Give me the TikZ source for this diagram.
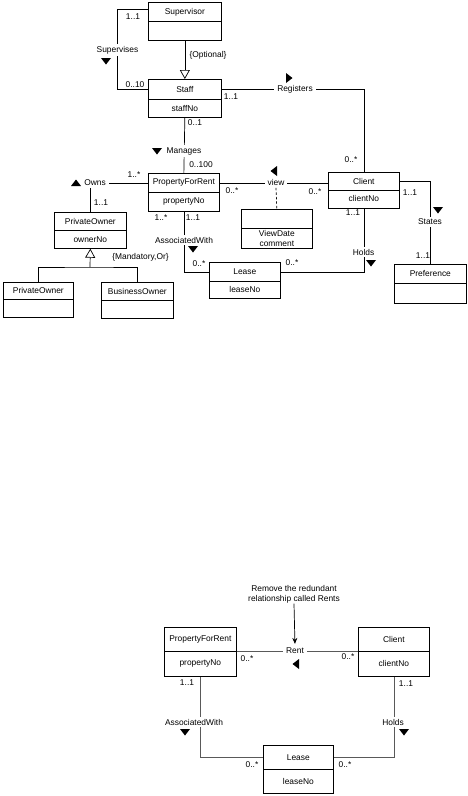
\documentclass[tikz,border=0pt]{standalone}
\usepackage{fontspec}
\setmainfont{Liberation Sans}
\usetikzlibrary{arrows.meta}
\tikzset{
  part/.style={draw, line width=0.7pt, inner sep=0pt, anchor=north west, align=center,
    font=\fontsize{8.4}{10}\selectfont},
  lbl/.style={inner sep=0.6pt, font=\fontsize{8.4}{10}\selectfont},
  wlbl/.style={lbl, fill=white, inner xsep=3pt, inner ysep=2pt},
  conn/.style={line width=0.7pt},
  gconn/.style={line width=0.7pt, draw=black!65},
  gen/.style={-{Triangle[open,length=9pt,width=10pt]}, line width=0.7pt},
}
\newcommand\umlcls[8]{%
  \node[part, minimum width=#4pt, minimum height=#5pt] (#1) at (#2,#3) {#7};
  \node[part, minimum width=#4pt, minimum height=#6pt] (#1a) at (#2,#3+#5) {#8};
}
\newcommand\tdn[2]{\fill (#1-5,#2-3) -- (#1+5,#2-3) -- (#1,#2+3.5) -- cycle;}
\newcommand\tup[2]{\fill (#1-5,#2+3) -- (#1+5,#2+3) -- (#1,#2-3.5) -- cycle;}
\newcommand\tlf[2]{\fill (#1+3,#2-5) -- (#1+3,#2+5) -- (#1-3.5,#2) -- cycle;}
\newcommand\trt[2]{\fill (#1-3,#2-5) -- (#1-3,#2+5) -- (#1+3.5,#2) -- cycle;}
\begin{document}
\begin{tikzpicture}[x=1pt,y=-1pt]
\useasboundingbox[fill=white] (0,0) rectangle (468,796);
% classes
\umlcls{Sup}{148}{2}{73}{19}{19}{Supervisor}{}
\umlcls{Staff}{148}{79}{73}{20}{18}{Staff}{staffNo}
\umlcls{PFR}{148}{173}{71}{19}{19}{PropertyForRent}{propertyNo}
\umlcls{Client}{328}{172}{71}{17.5}{18}{Client}{clientNo}
\umlcls{VD}{241}{209}{71}{19}{20}{}{ViewDate\\comment}
\umlcls{PO}{54}{212}{72}{18}{18}{PrivateOwner}{ownerNo}
\umlcls{POs}{3}{282}{70}{17}{18}{PrivateOwner}{}
\umlcls{BO}{101}{282}{72}{18}{18}{BusinessOwner}{}
\umlcls{Lease}{209}{262}{71}{19}{17}{Lease}{leaseNo}
\umlcls{Pref}{394}{264}{72}{19}{20}{Preference}{}
\umlcls{bPFR}{164}{627}{72}{24}{25}{PropertyForRent}{propertyNo}
\umlcls{bClient}{358}{627}{71}{24}{25}{Client}{clientNo}
\umlcls{bLease}{263}{745}{70}{24}{24}{Lease}{leaseNo}
% connectors (upper)
\draw[conn] ([yshift=2.5pt]Sup.west) -- ++(-31,0) |- (Staff.west);
\draw[gen] (Supa.south) -- (Staff.north);
\draw[conn] (Staff.east) -| (Client.north);
\draw[conn] (Staffa.south) -- (PFR.north);
\draw[conn] (PFR.east) -- (PFR.east -| Client.west);
\draw[conn] (PFR.west) -| (PO.north);
\coordinate (gj) at (90,267);
\draw[conn] (POs.north) |- (gj) -| (BO.north);
\draw[gen] (gj) -- (POa.south);
\draw[conn] (PFRa.south) |- (Lease.west);
\draw[conn] (Lease.east) -| (Clienta.south);
\draw[conn] (Client.east) -| (Pref.north);
% association labels (upper)
\node[wlbl] (sups) at (117.5,50) {Supervises};
\node[wlbl] (reg) at (295,89) {Registers};
\node[wlbl] (man) at (184,151) {Manages};
\node[wlbl] (view) at (276,182.5) {view};
\draw[conn, dash pattern=on 2.5pt off 2pt] (view.south) -- (VD.north);
\node[wlbl] (owns) at (95,183) {Owns};
\node[wlbl] (aw) at (184,240) {AssociatedWith};
\node[wlbl] (holds) at (363.5,252) {Holds};
\node[wlbl] (states) at (430,222) {States};
% direction markers
\tdn{106}{61}
\trt{289}{78}
\tdn{157}{151}
\tlf{274}{171}
\tup{76}{183}
\tdn{193}{249}
\tdn{371}{263}
\tdn{438}{210}
% multiplicities (upper)
\node[lbl] (m1) at (133,17) {1..1};
\node[lbl] (m2) at (135,85) {0..10};
\node[lbl] (m3) at (208,55) {\{Optional\}};
\node[lbl] (m4) at (231,97) {1..1};
\node[lbl] (m5) at (351,160) {0..*};
\node[lbl] (m6) at (195,123) {0..1};
\node[lbl] (m7) at (201,165) {0..100};
\node[lbl] (m8) at (232,191) {0..*};
\node[lbl] (m9) at (315,192) {0..*};
\node[lbl] (m10) at (134,175) {1..*};
\node[lbl] (m11) at (101,203) {1..1};
\node[lbl] (m12) at (140.5,257) {\{Mandatory,Or\}};
\node[lbl] (m13) at (161,218) {1..*};
\node[lbl] (m14) at (193,218) {1..1};
\node[lbl] (m15) at (199,264) {0..*};
\node[lbl] (m16) at (292,263) {0..*};
\node[lbl] (m17) at (353,213) {1..1};
\node[lbl] (m18) at (410,193) {1..1};
\node[lbl] (m19) at (423,256) {1..1};
% lower diagram
\node[lbl, align=center] (note) at (294,594) {Remove the redundant\\relationship called Rents};
\draw[gconn] (bPFR.south east) -- (bClient.south west);
\node[wlbl] (rent) at (295,651) {Rent};
\draw[conn, -{Stealth[length=6pt,width=5pt]}, shorten >=2pt] (note.south) -- (rent.north);
\draw[gconn] (bPFRa.south) |- (bLease.west);
\draw[gconn] (bLease.east) -| (bClienta.south);
\node[wlbl] (baw) at (194,722) {AssociatedWith};
\node[wlbl] (bholds) at (393,722) {Holds};
\tlf{296}{664}
\tdn{185}{732}
\tdn{404}{732}
\node[lbl] (m20) at (247,659) {0..*};
\node[lbl] (m21) at (348,657) {0..*};
\node[lbl] (m22) at (187,683) {1..1};
\node[lbl] (m23) at (252,765) {0..*};
\node[lbl] (m24) at (406,684) {1..1};
\node[lbl] (m25) at (345,765) {0..*};
\end{tikzpicture}
\end{document}
